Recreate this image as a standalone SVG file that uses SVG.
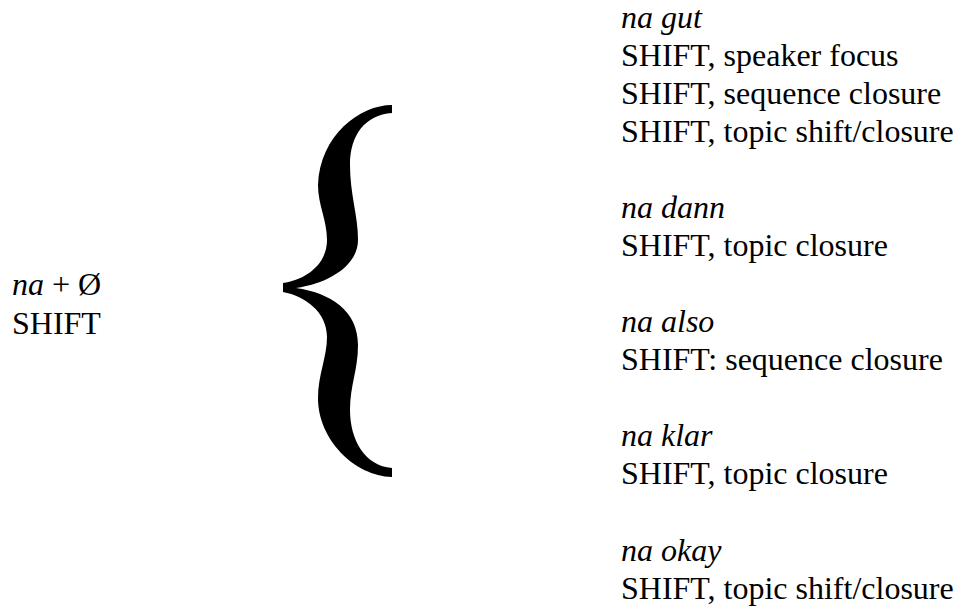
<svg xmlns="http://www.w3.org/2000/svg" width="957" height="606" viewBox="0 0 957 606">
  <style>
    .t { font-family: "Liberation Serif", Tinos, "Times New Roman", Times, "DejaVu Serif", serif; font-size: 32px; fill: #000; }
    .it { font-style: italic; }
  </style>
  <rect width="957" height="606" fill="#fff"/>
  <g id="source" class="t" font-family="'Liberation Serif', Tinos, 'Times New Roman', serif">
    <text x="12" y="295"><tspan class="it">na</tspan> + Ø</text>
    <text x="12" y="334">SHIFT</text>
  </g>
  <g id="brace">
    <path fill="#000" d="M392,105 L392,113 C365,115 350,135 350,165 C350,195 358,215 358,240 C358,265 330,283 296,288 C330,293 358,310 358,345 C358,370 350,385 350,410 C350,440 365,466 392,468 L392,477 C355,476 318,440 318,398 C318,375 327,357 327,337 C327,312 305,296 283,292 L283,283 C305,280 327,265 327,240 C327,220 318,205 318,185 C320,135 360,105 392,105 Z"/>
  </g>
  <g id="na-gut" class="t" font-family="'Liberation Serif', Tinos, 'Times New Roman', serif">
    <text x="621" y="28" class="it">na gut</text>
    <text x="621" y="65.5">SHIFT, speaker focus</text>
    <text x="621" y="103.5">SHIFT, sequence closure</text>
    <text x="621" y="141.5">SHIFT, topic shift/closure</text>
  </g>
  <g id="na-dann" class="t" font-family="'Liberation Serif', Tinos, 'Times New Roman', serif">
    <text x="621" y="218" class="it">na dann</text>
    <text x="621" y="256">SHIFT, topic closure</text>
  </g>
  <g id="na-also" class="t" font-family="'Liberation Serif', Tinos, 'Times New Roman', serif">
    <text x="621" y="332" class="it">na also</text>
    <text x="621" y="370">SHIFT: sequence closure</text>
  </g>
  <g id="na-klar" class="t" font-family="'Liberation Serif', Tinos, 'Times New Roman', serif">
    <text x="621" y="446" class="it">na klar</text>
    <text x="621" y="484">SHIFT, topic closure</text>
  </g>
  <g id="na-okay" class="t" font-family="'Liberation Serif', Tinos, 'Times New Roman', serif">
    <text x="621" y="560.5" class="it">na okay</text>
    <text x="621" y="598.5">SHIFT, topic shift/closure</text>
  </g>
</svg>
